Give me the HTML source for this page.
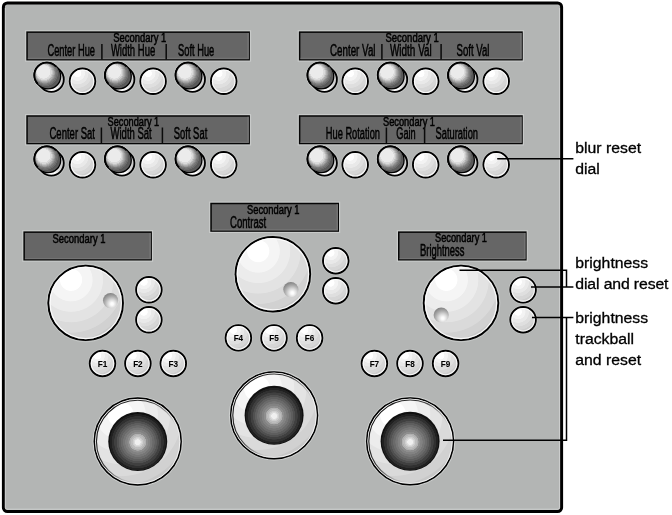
<!DOCTYPE html>
<html><head><meta charset="utf-8"><title>Panel</title>
<style>
html,body{margin:0;padding:0;background:#fff;}
body{width:672px;height:515px;overflow:hidden;}
svg{display:block;will-change:transform;}
text{font-family:"Liberation Sans",sans-serif;}
</style></head><body>
<svg width="672" height="515" viewBox="0 0 672 515">
<defs>
<radialGradient id="gCap" cx="0.464" cy="0.464" r="0.564" fx="0.286" fy="0.286"><stop offset="0" stop-color="#ebebeb"/><stop offset="0.467" stop-color="#ebebeb"/><stop offset="0.481" stop-color="#dadada"/><stop offset="0.544" stop-color="#dadada"/><stop offset="0.558" stop-color="#c6c6c6"/><stop offset="0.598" stop-color="#c6c6c6"/><stop offset="0.612" stop-color="#afafaf"/><stop offset="0.653" stop-color="#afafaf"/><stop offset="0.667" stop-color="#9d9d9d"/><stop offset="0.701" stop-color="#9d9d9d"/><stop offset="0.715" stop-color="#8a8a8a"/><stop offset="0.743" stop-color="#8a8a8a"/><stop offset="0.757" stop-color="#7a7a7a"/><stop offset="0.801" stop-color="#7a7a7a"/><stop offset="0.815" stop-color="#6c6c6c"/><stop offset="0.871" stop-color="#6c6c6c"/><stop offset="0.885" stop-color="#595959"/><stop offset="1" stop-color="#595959"/></radialGradient>
<linearGradient id="gBase" x1="0" y1="0" x2="1" y2="0.12"><stop offset="0" stop-color="#0c0c0c"/><stop offset="0.38" stop-color="#0c0c0c"/><stop offset="0.48" stop-color="#858585"/><stop offset="0.58" stop-color="#ffffff"/><stop offset="0.8" stop-color="#ffffff"/><stop offset="0.92" stop-color="#d8d8d8"/><stop offset="1" stop-color="#cccccc"/></linearGradient>
<radialGradient id="gKnob" cx="0.303" cy="0.19" r="0.876"><stop offset="0" stop-color="#ffffff"/><stop offset="0.164" stop-color="#ffffff"/><stop offset="0.176" stop-color="#f5f5f5"/><stop offset="0.324" stop-color="#f5f5f5"/><stop offset="0.336" stop-color="#ececec"/><stop offset="0.484" stop-color="#ececec"/><stop offset="0.496" stop-color="#e3e3e3"/><stop offset="0.644" stop-color="#e3e3e3"/><stop offset="0.656" stop-color="#dadada"/><stop offset="0.804" stop-color="#dadada"/><stop offset="0.816" stop-color="#d1d1d1"/><stop offset="0.924" stop-color="#d1d1d1"/><stop offset="0.936" stop-color="#c8c8c8"/><stop offset="1" stop-color="#c8c8c8"/></radialGradient>
<radialGradient id="gBtn" cx="0.303" cy="0.19" r="0.876"><stop offset="0" stop-color="#ffffff"/><stop offset="0.158" stop-color="#ffffff"/><stop offset="0.182" stop-color="#f3f3f3"/><stop offset="0.318" stop-color="#f3f3f3"/><stop offset="0.342" stop-color="#e9e9e9"/><stop offset="0.478" stop-color="#e9e9e9"/><stop offset="0.502" stop-color="#dfdfdf"/><stop offset="0.638" stop-color="#dfdfdf"/><stop offset="0.662" stop-color="#d6d6d6"/><stop offset="0.798" stop-color="#d6d6d6"/><stop offset="0.822" stop-color="#cdcdcd"/><stop offset="0.918" stop-color="#cdcdcd"/><stop offset="0.942" stop-color="#c5c5c5"/><stop offset="1" stop-color="#c5c5c5"/></radialGradient>
<radialGradient id="gDimple" cx="0.6" cy="0.72" r="0.8"><stop offset="0" stop-color="#ffffff"/><stop offset="0.12" stop-color="#fafafa"/><stop offset="0.35" stop-color="#d8d8d8"/><stop offset="0.6" stop-color="#adadad"/><stop offset="0.85" stop-color="#888888"/><stop offset="1" stop-color="#787878"/></radialGradient>
<radialGradient id="gBall" cx="0.5" cy="0.512" r="0.505"><stop offset="0" stop-color="#f0f0f0"/><stop offset="0.091" stop-color="#f0f0f0"/><stop offset="0.103" stop-color="#dcdcdc"/><stop offset="0.128" stop-color="#dcdcdc"/><stop offset="0.14" stop-color="#cfcfcf"/><stop offset="0.168" stop-color="#cfcfcf"/><stop offset="0.18" stop-color="#bdbdbd"/><stop offset="0.226" stop-color="#bdbdbd"/><stop offset="0.238" stop-color="#b0b0b0"/><stop offset="0.276" stop-color="#b0b0b0"/><stop offset="0.288" stop-color="#8e8e8e"/><stop offset="0.34" stop-color="#8e8e8e"/><stop offset="0.352" stop-color="#828282"/><stop offset="0.414" stop-color="#828282"/><stop offset="0.426" stop-color="#767676"/><stop offset="0.487" stop-color="#767676"/><stop offset="0.499" stop-color="#6a6a6a"/><stop offset="0.561" stop-color="#6a6a6a"/><stop offset="0.573" stop-color="#5e5e5e"/><stop offset="0.632" stop-color="#5e5e5e"/><stop offset="0.644" stop-color="#505050"/><stop offset="0.699" stop-color="#505050"/><stop offset="0.711" stop-color="#404040"/><stop offset="0.784" stop-color="#404040"/><stop offset="0.796" stop-color="#303030"/><stop offset="0.866" stop-color="#303030"/><stop offset="0.878" stop-color="#202020"/><stop offset="0.934" stop-color="#202020"/><stop offset="0.946" stop-color="#101010"/><stop offset="1" stop-color="#101010"/></radialGradient>
<linearGradient id="gRing" x1="0.1" y1="0.1" x2="0.9" y2="0.9"><stop offset="0" stop-color="#ffffff"/><stop offset="0.45" stop-color="#f8f8f8"/><stop offset="0.7" stop-color="#ebebeb"/><stop offset="1" stop-color="#dedede"/></linearGradient>
<linearGradient id="gBevel" x1="0.1" y1="0.2" x2="0.9" y2="0.8"><stop offset="0" stop-color="#1a1a1a" stop-opacity="1"/><stop offset="0.35" stop-color="#3c3c3c" stop-opacity="1"/><stop offset="0.55" stop-color="#777777" stop-opacity="0.75"/><stop offset="0.8" stop-color="#cccccc" stop-opacity="0"/></linearGradient>
</defs>
<rect x="3.4" y="2.9" width="558.2" height="508.6" rx="4" ry="4" fill="#b3b5b4" stroke="#000" stroke-width="3"/>
<path d="M5.3 8 V507.5 Q5.3 509.2 7 509.2 H557.5 Q559.6 509.2 559.6 507.5 V8" fill="none" stroke="#d4d6d5" stroke-width="0.8"/>
<rect x="25.7" y="30.799999999999997" width="224.79999999999998" height="30.250000000000004" fill="none" stroke="#c8cac9" stroke-width="1.2"/>
<rect x="26.3" y="31.4" width="223.6" height="29.050000000000004" fill="#060606"/>
<rect x="27.8" y="32.9" width="221.1" height="26.150000000000006" fill="#666666"/>
<path d="M248.1 32.9 V58.550000000000004 H27.8" fill="none" stroke="#7a7a7a" stroke-width="1.4" stroke-opacity="0.75"/>
<text x="113.25" y="42" font-size="12.0" font-weight="normal" fill="#000000" text-anchor="start" textLength="53" lengthAdjust="spacingAndGlyphs" stroke="#000000" stroke-width="0.5">Secondary 1</text>
<text x="47.5" y="55.5" font-size="15.8" font-weight="normal" fill="#000000" text-anchor="start" textLength="47.5" lengthAdjust="spacingAndGlyphs" stroke="#000000" stroke-width="0.5">Center Hue</text>
<path d="M101.9 43.9 V59.4" stroke="#0a0a0a" stroke-width="1.5" fill="none"/>
<text x="110.9" y="55.5" font-size="15.8" font-weight="normal" fill="#000000" text-anchor="start" textLength="44.3" lengthAdjust="spacingAndGlyphs" stroke="#000000" stroke-width="0.5">Width Hue</text>
<path d="M166.2 43.9 V59.4" stroke="#0a0a0a" stroke-width="1.5" fill="none"/>
<text x="178" y="55.5" font-size="15.8" font-weight="normal" fill="#000000" text-anchor="start" textLength="36.25" lengthAdjust="spacingAndGlyphs" stroke="#000000" stroke-width="0.5">Soft Hue</text>
<rect x="25.7" y="114.65" width="224.79999999999998" height="30.25000000000001" fill="none" stroke="#c8cac9" stroke-width="1.2"/>
<rect x="26.3" y="115.25" width="223.6" height="29.05000000000001" fill="#060606"/>
<rect x="27.8" y="116.75" width="221.1" height="26.150000000000006" fill="#666666"/>
<path d="M248.1 116.75 V142.4 H27.8" fill="none" stroke="#7a7a7a" stroke-width="1.4" stroke-opacity="0.75"/>
<text x="107.5" y="125.6" font-size="12.0" font-weight="normal" fill="#000000" text-anchor="start" textLength="51.75" lengthAdjust="spacingAndGlyphs" stroke="#000000" stroke-width="0.5">Secondary 1</text>
<text x="49.5" y="139.1" font-size="15.8" font-weight="normal" fill="#000000" text-anchor="start" textLength="45.5" lengthAdjust="spacingAndGlyphs" stroke="#000000" stroke-width="0.5">Center Sat</text>
<path d="M101.4 127.5 V143.0" stroke="#0a0a0a" stroke-width="1.5" fill="none"/>
<text x="110.5" y="139.1" font-size="15.8" font-weight="normal" fill="#000000" text-anchor="start" textLength="41.25" lengthAdjust="spacingAndGlyphs" stroke="#000000" stroke-width="0.5">Width Sat</text>
<path d="M162.4 127.5 V143.0" stroke="#0a0a0a" stroke-width="1.5" fill="none"/>
<text x="173.75" y="139.1" font-size="15.8" font-weight="normal" fill="#000000" text-anchor="start" textLength="33.5" lengthAdjust="spacingAndGlyphs" stroke="#000000" stroke-width="0.5">Soft Sat</text>
<rect x="298.29999999999995" y="30.799999999999997" width="225.05" height="30.250000000000004" fill="none" stroke="#c8cac9" stroke-width="1.2"/>
<rect x="298.9" y="31.4" width="223.85000000000002" height="29.050000000000004" fill="#060606"/>
<rect x="300.4" y="32.9" width="221.35000000000002" height="26.150000000000006" fill="#666666"/>
<path d="M520.95 32.9 V58.550000000000004 H300.4" fill="none" stroke="#7a7a7a" stroke-width="1.4" stroke-opacity="0.75"/>
<text x="385.5" y="42" font-size="12.0" font-weight="normal" fill="#000000" text-anchor="start" textLength="53.25" lengthAdjust="spacingAndGlyphs" stroke="#000000" stroke-width="0.5">Secondary 1</text>
<text x="330" y="55.5" font-size="15.8" font-weight="normal" fill="#000000" text-anchor="start" textLength="45.5" lengthAdjust="spacingAndGlyphs" stroke="#000000" stroke-width="0.5">Center Val</text>
<path d="M381.9 43.9 V59.4" stroke="#0a0a0a" stroke-width="1.5" fill="none"/>
<text x="390" y="55.5" font-size="15.8" font-weight="normal" fill="#000000" text-anchor="start" textLength="41.75" lengthAdjust="spacingAndGlyphs" stroke="#000000" stroke-width="0.5">Width Val</text>
<path d="M441.1 43.9 V59.4" stroke="#0a0a0a" stroke-width="1.5" fill="none"/>
<text x="456.5" y="55.5" font-size="15.8" font-weight="normal" fill="#000000" text-anchor="start" textLength="33" lengthAdjust="spacingAndGlyphs" stroke="#000000" stroke-width="0.5">Soft Val</text>
<rect x="298.29999999999995" y="114.65" width="225.05" height="30.2" fill="none" stroke="#c8cac9" stroke-width="1.2"/>
<rect x="298.9" y="115.25" width="223.85000000000002" height="29.0" fill="#060606"/>
<rect x="300.4" y="116.75" width="221.35000000000002" height="26.099999999999994" fill="#666666"/>
<path d="M520.95 116.75 V142.35 H300.4" fill="none" stroke="#7a7a7a" stroke-width="1.4" stroke-opacity="0.75"/>
<text x="383" y="125.6" font-size="12.0" font-weight="normal" fill="#000000" text-anchor="start" textLength="52" lengthAdjust="spacingAndGlyphs" stroke="#000000" stroke-width="0.5">Secondary 1</text>
<text x="325.75" y="139.1" font-size="15.8" font-weight="normal" fill="#000000" text-anchor="start" textLength="54.25" lengthAdjust="spacingAndGlyphs" stroke="#000000" stroke-width="0.5">Hue Rotation</text>
<path d="M386.4 127.5 V143.0" stroke="#0a0a0a" stroke-width="1.5" fill="none"/>
<text x="396.25" y="139.1" font-size="15.8" font-weight="normal" fill="#000000" text-anchor="start" textLength="19.5" lengthAdjust="spacingAndGlyphs" stroke="#000000" stroke-width="0.5">Gain</text>
<path d="M424.6 127.5 V143.0" stroke="#0a0a0a" stroke-width="1.5" fill="none"/>
<text x="435.5" y="139.1" font-size="15.8" font-weight="normal" fill="#000000" text-anchor="start" textLength="42.5" lengthAdjust="spacingAndGlyphs" stroke="#000000" stroke-width="0.5">Saturation</text>
<path d="M55.64 66.21 L60.04 70.51 A12.5 12.5 0 0 1 42.56 88.39 L38.16 84.09 A12.5 12.5 0 0 1 55.64 66.21 Z" fill="none" stroke="#c3c5c4" stroke-width="3.6"/>
<path d="M55.64 66.21 L60.04 70.51 A12.5 12.5 0 0 1 42.56 88.39 L38.16 84.09 A12.5 12.5 0 0 1 55.64 66.21 Z" fill="url(#gBase)" stroke="#000" stroke-width="1.8"/>
<path d="M55.74 66.31 L56.99 67.56 A12.5 12.5 0 0 1 39.31 85.24 L38.06 83.99 A12.5 12.5 0 0 1 55.74 66.31 Z" fill="#5c5c5c" stroke="#000" stroke-width="1.3"/>
<circle cx="46.90" cy="75.15" r="12.50" fill="url(#gCap)"/>
<circle cx="46.90" cy="75.15" r="12.50" fill="none" stroke="#000" stroke-width="1.8" stroke-dasharray="39.27 39.27" stroke-dashoffset="-29.45"/>
<circle cx="82.5" cy="81.3" r="14.2" fill="none" stroke="#c3c5c4" stroke-width="0.9"/>
<circle cx="82.5" cy="81.3" r="12.75" fill="url(#gBtn)" stroke="#000" stroke-width="1.9"/>
<circle cx="82.5" cy="81.3" r="11.25" fill="none" stroke="#ffffff" stroke-width="1.1" stroke-opacity="0.85"/>
<path d="M328.74 66.21 L333.14 70.51 A12.5 12.5 0 0 1 315.66 88.39 L311.26 84.09 A12.5 12.5 0 0 1 328.74 66.21 Z" fill="none" stroke="#c3c5c4" stroke-width="3.6"/>
<path d="M328.74 66.21 L333.14 70.51 A12.5 12.5 0 0 1 315.66 88.39 L311.26 84.09 A12.5 12.5 0 0 1 328.74 66.21 Z" fill="url(#gBase)" stroke="#000" stroke-width="1.8"/>
<path d="M328.84 66.31 L330.09 67.56 A12.5 12.5 0 0 1 312.41 85.24 L311.16 83.99 A12.5 12.5 0 0 1 328.84 66.31 Z" fill="#5c5c5c" stroke="#000" stroke-width="1.3"/>
<circle cx="320.00" cy="75.15" r="12.50" fill="url(#gCap)"/>
<circle cx="320.00" cy="75.15" r="12.50" fill="none" stroke="#000" stroke-width="1.8" stroke-dasharray="39.27 39.27" stroke-dashoffset="-29.45"/>
<circle cx="355.2" cy="81.3" r="14.2" fill="none" stroke="#c3c5c4" stroke-width="0.9"/>
<circle cx="355.2" cy="81.3" r="12.75" fill="url(#gBtn)" stroke="#000" stroke-width="1.9"/>
<circle cx="355.2" cy="81.3" r="11.25" fill="none" stroke="#ffffff" stroke-width="1.1" stroke-opacity="0.85"/>
<path d="M126.24 66.21 L130.64 70.51 A12.5 12.5 0 0 1 113.16 88.39 L108.76 84.09 A12.5 12.5 0 0 1 126.24 66.21 Z" fill="none" stroke="#c3c5c4" stroke-width="3.6"/>
<path d="M126.24 66.21 L130.64 70.51 A12.5 12.5 0 0 1 113.16 88.39 L108.76 84.09 A12.5 12.5 0 0 1 126.24 66.21 Z" fill="url(#gBase)" stroke="#000" stroke-width="1.8"/>
<path d="M126.34 66.31 L127.59 67.56 A12.5 12.5 0 0 1 109.91 85.24 L108.66 83.99 A12.5 12.5 0 0 1 126.34 66.31 Z" fill="#5c5c5c" stroke="#000" stroke-width="1.3"/>
<circle cx="117.50" cy="75.15" r="12.50" fill="url(#gCap)"/>
<circle cx="117.50" cy="75.15" r="12.50" fill="none" stroke="#000" stroke-width="1.8" stroke-dasharray="39.27 39.27" stroke-dashoffset="-29.45"/>
<circle cx="153.1" cy="81.3" r="14.2" fill="none" stroke="#c3c5c4" stroke-width="0.9"/>
<circle cx="153.1" cy="81.3" r="12.75" fill="url(#gBtn)" stroke="#000" stroke-width="1.9"/>
<circle cx="153.1" cy="81.3" r="11.25" fill="none" stroke="#ffffff" stroke-width="1.1" stroke-opacity="0.85"/>
<path d="M399.04 66.21 L403.44 70.51 A12.5 12.5 0 0 1 385.96 88.39 L381.56 84.09 A12.5 12.5 0 0 1 399.04 66.21 Z" fill="none" stroke="#c3c5c4" stroke-width="3.6"/>
<path d="M399.04 66.21 L403.44 70.51 A12.5 12.5 0 0 1 385.96 88.39 L381.56 84.09 A12.5 12.5 0 0 1 399.04 66.21 Z" fill="url(#gBase)" stroke="#000" stroke-width="1.8"/>
<path d="M399.14 66.31 L400.39 67.56 A12.5 12.5 0 0 1 382.71 85.24 L381.46 83.99 A12.5 12.5 0 0 1 399.14 66.31 Z" fill="#5c5c5c" stroke="#000" stroke-width="1.3"/>
<circle cx="390.30" cy="75.15" r="12.50" fill="url(#gCap)"/>
<circle cx="390.30" cy="75.15" r="12.50" fill="none" stroke="#000" stroke-width="1.8" stroke-dasharray="39.27 39.27" stroke-dashoffset="-29.45"/>
<circle cx="425.7" cy="81.3" r="14.2" fill="none" stroke="#c3c5c4" stroke-width="0.9"/>
<circle cx="425.7" cy="81.3" r="12.75" fill="url(#gBtn)" stroke="#000" stroke-width="1.9"/>
<circle cx="425.7" cy="81.3" r="11.25" fill="none" stroke="#ffffff" stroke-width="1.1" stroke-opacity="0.85"/>
<path d="M196.84 66.21 L201.24 70.51 A12.5 12.5 0 0 1 183.76 88.39 L179.36 84.09 A12.5 12.5 0 0 1 196.84 66.21 Z" fill="none" stroke="#c3c5c4" stroke-width="3.6"/>
<path d="M196.84 66.21 L201.24 70.51 A12.5 12.5 0 0 1 183.76 88.39 L179.36 84.09 A12.5 12.5 0 0 1 196.84 66.21 Z" fill="url(#gBase)" stroke="#000" stroke-width="1.8"/>
<path d="M196.94 66.31 L198.19 67.56 A12.5 12.5 0 0 1 180.51 85.24 L179.26 83.99 A12.5 12.5 0 0 1 196.94 66.31 Z" fill="#5c5c5c" stroke="#000" stroke-width="1.3"/>
<circle cx="188.10" cy="75.15" r="12.50" fill="url(#gCap)"/>
<circle cx="188.10" cy="75.15" r="12.50" fill="none" stroke="#000" stroke-width="1.8" stroke-dasharray="39.27 39.27" stroke-dashoffset="-29.45"/>
<circle cx="223.7" cy="81.3" r="14.2" fill="none" stroke="#c3c5c4" stroke-width="0.9"/>
<circle cx="223.7" cy="81.3" r="12.75" fill="url(#gBtn)" stroke="#000" stroke-width="1.9"/>
<circle cx="223.7" cy="81.3" r="11.25" fill="none" stroke="#ffffff" stroke-width="1.1" stroke-opacity="0.85"/>
<path d="M469.34 66.21 L473.74 70.51 A12.5 12.5 0 0 1 456.26 88.39 L451.86 84.09 A12.5 12.5 0 0 1 469.34 66.21 Z" fill="none" stroke="#c3c5c4" stroke-width="3.6"/>
<path d="M469.34 66.21 L473.74 70.51 A12.5 12.5 0 0 1 456.26 88.39 L451.86 84.09 A12.5 12.5 0 0 1 469.34 66.21 Z" fill="url(#gBase)" stroke="#000" stroke-width="1.8"/>
<path d="M469.44 66.31 L470.69 67.56 A12.5 12.5 0 0 1 453.01 85.24 L451.76 83.99 A12.5 12.5 0 0 1 469.44 66.31 Z" fill="#5c5c5c" stroke="#000" stroke-width="1.3"/>
<circle cx="460.60" cy="75.15" r="12.50" fill="url(#gCap)"/>
<circle cx="460.60" cy="75.15" r="12.50" fill="none" stroke="#000" stroke-width="1.8" stroke-dasharray="39.27 39.27" stroke-dashoffset="-29.45"/>
<circle cx="496.2" cy="81.3" r="14.2" fill="none" stroke="#c3c5c4" stroke-width="0.9"/>
<circle cx="496.2" cy="81.3" r="12.75" fill="url(#gBtn)" stroke="#000" stroke-width="1.9"/>
<circle cx="496.2" cy="81.3" r="11.25" fill="none" stroke="#ffffff" stroke-width="1.1" stroke-opacity="0.85"/>
<path d="M55.64 149.96 L60.04 154.26 A12.5 12.5 0 0 1 42.56 172.14 L38.16 167.84 A12.5 12.5 0 0 1 55.64 149.96 Z" fill="none" stroke="#c3c5c4" stroke-width="3.6"/>
<path d="M55.64 149.96 L60.04 154.26 A12.5 12.5 0 0 1 42.56 172.14 L38.16 167.84 A12.5 12.5 0 0 1 55.64 149.96 Z" fill="url(#gBase)" stroke="#000" stroke-width="1.8"/>
<path d="M55.74 150.06 L56.99 151.31 A12.5 12.5 0 0 1 39.31 168.99 L38.06 167.74 A12.5 12.5 0 0 1 55.74 150.06 Z" fill="#5c5c5c" stroke="#000" stroke-width="1.3"/>
<circle cx="46.90" cy="158.90" r="12.50" fill="url(#gCap)"/>
<circle cx="46.90" cy="158.90" r="12.50" fill="none" stroke="#000" stroke-width="1.8" stroke-dasharray="39.27 39.27" stroke-dashoffset="-29.45"/>
<circle cx="82.5" cy="164.79999999999998" r="14.2" fill="none" stroke="#c3c5c4" stroke-width="0.9"/>
<circle cx="82.5" cy="164.79999999999998" r="12.75" fill="url(#gBtn)" stroke="#000" stroke-width="1.9"/>
<circle cx="82.5" cy="164.79999999999998" r="11.25" fill="none" stroke="#ffffff" stroke-width="1.1" stroke-opacity="0.85"/>
<path d="M328.74 149.96 L333.14 154.26 A12.5 12.5 0 0 1 315.66 172.14 L311.26 167.84 A12.5 12.5 0 0 1 328.74 149.96 Z" fill="none" stroke="#c3c5c4" stroke-width="3.6"/>
<path d="M328.74 149.96 L333.14 154.26 A12.5 12.5 0 0 1 315.66 172.14 L311.26 167.84 A12.5 12.5 0 0 1 328.74 149.96 Z" fill="url(#gBase)" stroke="#000" stroke-width="1.8"/>
<path d="M328.84 150.06 L330.09 151.31 A12.5 12.5 0 0 1 312.41 168.99 L311.16 167.74 A12.5 12.5 0 0 1 328.84 150.06 Z" fill="#5c5c5c" stroke="#000" stroke-width="1.3"/>
<circle cx="320.00" cy="158.90" r="12.50" fill="url(#gCap)"/>
<circle cx="320.00" cy="158.90" r="12.50" fill="none" stroke="#000" stroke-width="1.8" stroke-dasharray="39.27 39.27" stroke-dashoffset="-29.45"/>
<circle cx="355.2" cy="164.79999999999998" r="14.2" fill="none" stroke="#c3c5c4" stroke-width="0.9"/>
<circle cx="355.2" cy="164.79999999999998" r="12.75" fill="url(#gBtn)" stroke="#000" stroke-width="1.9"/>
<circle cx="355.2" cy="164.79999999999998" r="11.25" fill="none" stroke="#ffffff" stroke-width="1.1" stroke-opacity="0.85"/>
<path d="M126.24 149.96 L130.64 154.26 A12.5 12.5 0 0 1 113.16 172.14 L108.76 167.84 A12.5 12.5 0 0 1 126.24 149.96 Z" fill="none" stroke="#c3c5c4" stroke-width="3.6"/>
<path d="M126.24 149.96 L130.64 154.26 A12.5 12.5 0 0 1 113.16 172.14 L108.76 167.84 A12.5 12.5 0 0 1 126.24 149.96 Z" fill="url(#gBase)" stroke="#000" stroke-width="1.8"/>
<path d="M126.34 150.06 L127.59 151.31 A12.5 12.5 0 0 1 109.91 168.99 L108.66 167.74 A12.5 12.5 0 0 1 126.34 150.06 Z" fill="#5c5c5c" stroke="#000" stroke-width="1.3"/>
<circle cx="117.50" cy="158.90" r="12.50" fill="url(#gCap)"/>
<circle cx="117.50" cy="158.90" r="12.50" fill="none" stroke="#000" stroke-width="1.8" stroke-dasharray="39.27 39.27" stroke-dashoffset="-29.45"/>
<circle cx="153.1" cy="164.79999999999998" r="14.2" fill="none" stroke="#c3c5c4" stroke-width="0.9"/>
<circle cx="153.1" cy="164.79999999999998" r="12.75" fill="url(#gBtn)" stroke="#000" stroke-width="1.9"/>
<circle cx="153.1" cy="164.79999999999998" r="11.25" fill="none" stroke="#ffffff" stroke-width="1.1" stroke-opacity="0.85"/>
<path d="M399.04 149.96 L403.44 154.26 A12.5 12.5 0 0 1 385.96 172.14 L381.56 167.84 A12.5 12.5 0 0 1 399.04 149.96 Z" fill="none" stroke="#c3c5c4" stroke-width="3.6"/>
<path d="M399.04 149.96 L403.44 154.26 A12.5 12.5 0 0 1 385.96 172.14 L381.56 167.84 A12.5 12.5 0 0 1 399.04 149.96 Z" fill="url(#gBase)" stroke="#000" stroke-width="1.8"/>
<path d="M399.14 150.06 L400.39 151.31 A12.5 12.5 0 0 1 382.71 168.99 L381.46 167.74 A12.5 12.5 0 0 1 399.14 150.06 Z" fill="#5c5c5c" stroke="#000" stroke-width="1.3"/>
<circle cx="390.30" cy="158.90" r="12.50" fill="url(#gCap)"/>
<circle cx="390.30" cy="158.90" r="12.50" fill="none" stroke="#000" stroke-width="1.8" stroke-dasharray="39.27 39.27" stroke-dashoffset="-29.45"/>
<circle cx="425.7" cy="164.79999999999998" r="14.2" fill="none" stroke="#c3c5c4" stroke-width="0.9"/>
<circle cx="425.7" cy="164.79999999999998" r="12.75" fill="url(#gBtn)" stroke="#000" stroke-width="1.9"/>
<circle cx="425.7" cy="164.79999999999998" r="11.25" fill="none" stroke="#ffffff" stroke-width="1.1" stroke-opacity="0.85"/>
<path d="M196.84 149.96 L201.24 154.26 A12.5 12.5 0 0 1 183.76 172.14 L179.36 167.84 A12.5 12.5 0 0 1 196.84 149.96 Z" fill="none" stroke="#c3c5c4" stroke-width="3.6"/>
<path d="M196.84 149.96 L201.24 154.26 A12.5 12.5 0 0 1 183.76 172.14 L179.36 167.84 A12.5 12.5 0 0 1 196.84 149.96 Z" fill="url(#gBase)" stroke="#000" stroke-width="1.8"/>
<path d="M196.94 150.06 L198.19 151.31 A12.5 12.5 0 0 1 180.51 168.99 L179.26 167.74 A12.5 12.5 0 0 1 196.94 150.06 Z" fill="#5c5c5c" stroke="#000" stroke-width="1.3"/>
<circle cx="188.10" cy="158.90" r="12.50" fill="url(#gCap)"/>
<circle cx="188.10" cy="158.90" r="12.50" fill="none" stroke="#000" stroke-width="1.8" stroke-dasharray="39.27 39.27" stroke-dashoffset="-29.45"/>
<circle cx="223.7" cy="164.79999999999998" r="14.2" fill="none" stroke="#c3c5c4" stroke-width="0.9"/>
<circle cx="223.7" cy="164.79999999999998" r="12.75" fill="url(#gBtn)" stroke="#000" stroke-width="1.9"/>
<circle cx="223.7" cy="164.79999999999998" r="11.25" fill="none" stroke="#ffffff" stroke-width="1.1" stroke-opacity="0.85"/>
<path d="M469.34 149.96 L473.74 154.26 A12.5 12.5 0 0 1 456.26 172.14 L451.86 167.84 A12.5 12.5 0 0 1 469.34 149.96 Z" fill="none" stroke="#c3c5c4" stroke-width="3.6"/>
<path d="M469.34 149.96 L473.74 154.26 A12.5 12.5 0 0 1 456.26 172.14 L451.86 167.84 A12.5 12.5 0 0 1 469.34 149.96 Z" fill="url(#gBase)" stroke="#000" stroke-width="1.8"/>
<path d="M469.44 150.06 L470.69 151.31 A12.5 12.5 0 0 1 453.01 168.99 L451.76 167.74 A12.5 12.5 0 0 1 469.44 150.06 Z" fill="#5c5c5c" stroke="#000" stroke-width="1.3"/>
<circle cx="460.60" cy="158.90" r="12.50" fill="url(#gCap)"/>
<circle cx="460.60" cy="158.90" r="12.50" fill="none" stroke="#000" stroke-width="1.8" stroke-dasharray="39.27 39.27" stroke-dashoffset="-29.45"/>
<circle cx="496.2" cy="164.79999999999998" r="14.2" fill="none" stroke="#c3c5c4" stroke-width="0.9"/>
<circle cx="496.2" cy="164.79999999999998" r="12.75" fill="url(#gBtn)" stroke="#000" stroke-width="1.9"/>
<circle cx="496.2" cy="164.79999999999998" r="11.25" fill="none" stroke="#ffffff" stroke-width="1.1" stroke-opacity="0.85"/>
<rect x="22.799999999999997" y="230.8" width="129.7" height="30.299999999999994" fill="none" stroke="#c8cac9" stroke-width="1.2"/>
<rect x="23.4" y="231.4" width="128.5" height="29.099999999999994" fill="#060606"/>
<rect x="24.9" y="232.9" width="126.0" height="26.200000000000017" fill="#666666"/>
<path d="M150.1 232.9 V258.6 H24.9" fill="none" stroke="#7a7a7a" stroke-width="1.4" stroke-opacity="0.75"/>
<text x="52.5" y="242.5" font-size="12.0" font-weight="normal" fill="#000000" text-anchor="start" textLength="53" lengthAdjust="spacingAndGlyphs" stroke="#000000" stroke-width="0.5">Secondary 1</text>
<rect x="209.70000000000002" y="202.15" width="129.89999999999998" height="30.25000000000001" fill="none" stroke="#c8cac9" stroke-width="1.2"/>
<rect x="210.3" y="202.75" width="128.7" height="29.05000000000001" fill="#060606"/>
<rect x="211.8" y="204.25" width="126.19999999999999" height="26.150000000000006" fill="#666666"/>
<path d="M337.2 204.25 V229.9 H211.8" fill="none" stroke="#7a7a7a" stroke-width="1.4" stroke-opacity="0.75"/>
<text x="247" y="213.75" font-size="12.0" font-weight="normal" fill="#000000" text-anchor="start" textLength="52.5" lengthAdjust="spacingAndGlyphs" stroke="#000000" stroke-width="0.5">Secondary 1</text>
<text x="230" y="228" font-size="15.8" font-weight="normal" fill="#000000" text-anchor="start" textLength="36.25" lengthAdjust="spacingAndGlyphs" stroke="#000000" stroke-width="0.5">Contrast</text>
<rect x="397.4" y="230.8" width="129.8" height="30.299999999999994" fill="none" stroke="#c8cac9" stroke-width="1.2"/>
<rect x="398.0" y="231.4" width="128.60000000000002" height="29.099999999999994" fill="#060606"/>
<rect x="399.5" y="232.9" width="126.10000000000002" height="26.200000000000017" fill="#666666"/>
<path d="M524.8000000000001 232.9 V258.6 H399.5" fill="none" stroke="#7a7a7a" stroke-width="1.4" stroke-opacity="0.75"/>
<text x="435" y="242" font-size="12.0" font-weight="normal" fill="#000000" text-anchor="start" textLength="52" lengthAdjust="spacingAndGlyphs" stroke="#000000" stroke-width="0.5">Secondary 1</text>
<text x="420" y="256.25" font-size="15.8" font-weight="normal" fill="#000000" text-anchor="start" textLength="44.5" lengthAdjust="spacingAndGlyphs" stroke="#000000" stroke-width="0.5">Brightness</text>
<circle cx="85.7" cy="302.9" r="38.95" fill="none" stroke="#c6c8c7" stroke-width="0.9"/>
<circle cx="85.3" cy="303.0" r="37.6" fill="#000"/>
<circle cx="85.7" cy="302.9" r="37.25" fill="url(#gKnob)" stroke="#000" stroke-width="1.9"/>
<circle cx="85.7" cy="302.9" r="35.65" fill="none" stroke="#ffffff" stroke-width="1.2" stroke-opacity="0.85"/>
<circle cx="110.55000000000001" cy="300.54999999999995" r="7.6" fill="url(#gDimple)"/>
<circle cx="272.9" cy="274.2" r="38.95" fill="none" stroke="#c6c8c7" stroke-width="0.9"/>
<circle cx="272.5" cy="274.3" r="37.6" fill="#000"/>
<circle cx="272.9" cy="274.2" r="37.25" fill="url(#gKnob)" stroke="#000" stroke-width="1.9"/>
<circle cx="272.9" cy="274.2" r="35.65" fill="none" stroke="#ffffff" stroke-width="1.2" stroke-opacity="0.85"/>
<circle cx="290.84999999999997" cy="289.59999999999997" r="7.6" fill="url(#gDimple)"/>
<circle cx="461" cy="302.9" r="38.95" fill="none" stroke="#c6c8c7" stroke-width="0.9"/>
<circle cx="460.6" cy="303.0" r="37.6" fill="#000"/>
<circle cx="461" cy="302.9" r="37.25" fill="url(#gKnob)" stroke="#000" stroke-width="1.9"/>
<circle cx="461" cy="302.9" r="35.65" fill="none" stroke="#ffffff" stroke-width="1.2" stroke-opacity="0.85"/>
<circle cx="441.25" cy="315.0" r="7.6" fill="url(#gDimple)"/>
<circle cx="148.9" cy="289.8" r="14.2" fill="none" stroke="#c3c5c4" stroke-width="0.9"/>
<circle cx="148.9" cy="289.8" r="12.75" fill="url(#gBtn)" stroke="#000" stroke-width="1.9"/>
<circle cx="148.9" cy="289.8" r="11.25" fill="none" stroke="#ffffff" stroke-width="1.1" stroke-opacity="0.85"/>
<circle cx="148.9" cy="319.8" r="14.2" fill="none" stroke="#c3c5c4" stroke-width="0.9"/>
<circle cx="148.9" cy="319.8" r="12.75" fill="url(#gBtn)" stroke="#000" stroke-width="1.9"/>
<circle cx="148.9" cy="319.8" r="11.25" fill="none" stroke="#ffffff" stroke-width="1.1" stroke-opacity="0.85"/>
<circle cx="335.75" cy="260.75" r="14.2" fill="none" stroke="#c3c5c4" stroke-width="0.9"/>
<circle cx="335.75" cy="260.75" r="12.75" fill="url(#gBtn)" stroke="#000" stroke-width="1.9"/>
<circle cx="335.75" cy="260.75" r="11.25" fill="none" stroke="#ffffff" stroke-width="1.1" stroke-opacity="0.85"/>
<circle cx="335.75" cy="290.75" r="14.2" fill="none" stroke="#c3c5c4" stroke-width="0.9"/>
<circle cx="335.75" cy="290.75" r="12.75" fill="url(#gBtn)" stroke="#000" stroke-width="1.9"/>
<circle cx="335.75" cy="290.75" r="11.25" fill="none" stroke="#ffffff" stroke-width="1.1" stroke-opacity="0.85"/>
<circle cx="523.1" cy="289.85" r="14.2" fill="none" stroke="#c3c5c4" stroke-width="0.9"/>
<circle cx="523.1" cy="289.85" r="12.75" fill="url(#gBtn)" stroke="#000" stroke-width="1.9"/>
<circle cx="523.1" cy="289.85" r="11.25" fill="none" stroke="#ffffff" stroke-width="1.1" stroke-opacity="0.85"/>
<circle cx="523.1" cy="319.75" r="14.2" fill="none" stroke="#c3c5c4" stroke-width="0.9"/>
<circle cx="523.1" cy="319.75" r="12.75" fill="url(#gBtn)" stroke="#000" stroke-width="1.9"/>
<circle cx="523.1" cy="319.75" r="11.25" fill="none" stroke="#ffffff" stroke-width="1.1" stroke-opacity="0.85"/>
<circle cx="102.5" cy="363.5" r="14.2" fill="none" stroke="#c3c5c4" stroke-width="0.9"/>
<circle cx="102.5" cy="363.5" r="12.75" fill="url(#gBtn)" stroke="#000" stroke-width="1.9"/>
<circle cx="102.5" cy="363.5" r="11.25" fill="none" stroke="#ffffff" stroke-width="1.1" stroke-opacity="0.85"/>
<text x="102.5" y="366.8" font-size="9.5" font-weight="bold" fill="#000000" text-anchor="middle" textLength="9.5" lengthAdjust="spacingAndGlyphs" stroke="#000000" stroke-width="0.1">F1</text>
<circle cx="137.9" cy="363.5" r="14.2" fill="none" stroke="#c3c5c4" stroke-width="0.9"/>
<circle cx="137.9" cy="363.5" r="12.75" fill="url(#gBtn)" stroke="#000" stroke-width="1.9"/>
<circle cx="137.9" cy="363.5" r="11.25" fill="none" stroke="#ffffff" stroke-width="1.1" stroke-opacity="0.85"/>
<text x="137.9" y="366.8" font-size="9.5" font-weight="bold" fill="#000000" text-anchor="middle" textLength="9.5" lengthAdjust="spacingAndGlyphs" stroke="#000000" stroke-width="0.1">F2</text>
<circle cx="173.3" cy="363.5" r="14.2" fill="none" stroke="#c3c5c4" stroke-width="0.9"/>
<circle cx="173.3" cy="363.5" r="12.75" fill="url(#gBtn)" stroke="#000" stroke-width="1.9"/>
<circle cx="173.3" cy="363.5" r="11.25" fill="none" stroke="#ffffff" stroke-width="1.1" stroke-opacity="0.85"/>
<text x="173.3" y="366.8" font-size="9.5" font-weight="bold" fill="#000000" text-anchor="middle" textLength="9.5" lengthAdjust="spacingAndGlyphs" stroke="#000000" stroke-width="0.1">F3</text>
<circle cx="238.4" cy="337.9" r="14.2" fill="none" stroke="#c3c5c4" stroke-width="0.9"/>
<circle cx="238.4" cy="337.9" r="12.75" fill="url(#gBtn)" stroke="#000" stroke-width="1.9"/>
<circle cx="238.4" cy="337.9" r="11.25" fill="none" stroke="#ffffff" stroke-width="1.1" stroke-opacity="0.85"/>
<text x="238.4" y="341.2" font-size="9.5" font-weight="bold" fill="#000000" text-anchor="middle" textLength="9.5" lengthAdjust="spacingAndGlyphs" stroke="#000000" stroke-width="0.1">F4</text>
<circle cx="274.0" cy="337.9" r="14.2" fill="none" stroke="#c3c5c4" stroke-width="0.9"/>
<circle cx="274.0" cy="337.9" r="12.75" fill="url(#gBtn)" stroke="#000" stroke-width="1.9"/>
<circle cx="274.0" cy="337.9" r="11.25" fill="none" stroke="#ffffff" stroke-width="1.1" stroke-opacity="0.85"/>
<text x="274.0" y="341.2" font-size="9.5" font-weight="bold" fill="#000000" text-anchor="middle" textLength="9.5" lengthAdjust="spacingAndGlyphs" stroke="#000000" stroke-width="0.1">F5</text>
<circle cx="309.6" cy="337.9" r="14.2" fill="none" stroke="#c3c5c4" stroke-width="0.9"/>
<circle cx="309.6" cy="337.9" r="12.75" fill="url(#gBtn)" stroke="#000" stroke-width="1.9"/>
<circle cx="309.6" cy="337.9" r="11.25" fill="none" stroke="#ffffff" stroke-width="1.1" stroke-opacity="0.85"/>
<text x="309.6" y="341.2" font-size="9.5" font-weight="bold" fill="#000000" text-anchor="middle" textLength="9.5" lengthAdjust="spacingAndGlyphs" stroke="#000000" stroke-width="0.1">F6</text>
<circle cx="374.4" cy="363.5" r="14.2" fill="none" stroke="#c3c5c4" stroke-width="0.9"/>
<circle cx="374.4" cy="363.5" r="12.75" fill="url(#gBtn)" stroke="#000" stroke-width="1.9"/>
<circle cx="374.4" cy="363.5" r="11.25" fill="none" stroke="#ffffff" stroke-width="1.1" stroke-opacity="0.85"/>
<text x="374.4" y="366.8" font-size="9.5" font-weight="bold" fill="#000000" text-anchor="middle" textLength="9.5" lengthAdjust="spacingAndGlyphs" stroke="#000000" stroke-width="0.1">F7</text>
<circle cx="410.0" cy="363.5" r="14.2" fill="none" stroke="#c3c5c4" stroke-width="0.9"/>
<circle cx="410.0" cy="363.5" r="12.75" fill="url(#gBtn)" stroke="#000" stroke-width="1.9"/>
<circle cx="410.0" cy="363.5" r="11.25" fill="none" stroke="#ffffff" stroke-width="1.1" stroke-opacity="0.85"/>
<text x="410.0" y="366.8" font-size="9.5" font-weight="bold" fill="#000000" text-anchor="middle" textLength="9.5" lengthAdjust="spacingAndGlyphs" stroke="#000000" stroke-width="0.1">F8</text>
<circle cx="445.59999999999997" cy="363.5" r="14.2" fill="none" stroke="#c3c5c4" stroke-width="0.9"/>
<circle cx="445.59999999999997" cy="363.5" r="12.75" fill="url(#gBtn)" stroke="#000" stroke-width="1.9"/>
<circle cx="445.59999999999997" cy="363.5" r="11.25" fill="none" stroke="#ffffff" stroke-width="1.1" stroke-opacity="0.85"/>
<text x="445.59999999999997" y="366.8" font-size="9.5" font-weight="bold" fill="#000000" text-anchor="middle" textLength="9.5" lengthAdjust="spacingAndGlyphs" stroke="#000000" stroke-width="0.1">F9</text>
<circle cx="137.75" cy="441.5" r="44.75" fill="none" stroke="#d0d2d1" stroke-width="1.0"/>
<circle cx="137.75" cy="441.5" r="43.35" fill="url(#gKnob)" stroke="#000" stroke-width="1.6"/>
<circle cx="137.75" cy="441.5" r="42.2" fill="none" stroke="#ffffff" stroke-width="0.8" stroke-opacity="0.95"/>
<circle cx="137.75" cy="441.5" r="41.300000000000004" fill="none" stroke="url(#gBevel)" stroke-width="1.15"/>
<circle cx="137.75" cy="441.5" r="29.5" fill="url(#gBall)"/>
<circle cx="274.1" cy="415.3" r="44.75" fill="none" stroke="#d0d2d1" stroke-width="1.0"/>
<circle cx="274.1" cy="415.3" r="43.35" fill="url(#gKnob)" stroke="#000" stroke-width="1.6"/>
<circle cx="274.1" cy="415.3" r="42.2" fill="none" stroke="#ffffff" stroke-width="0.8" stroke-opacity="0.95"/>
<circle cx="274.1" cy="415.3" r="41.300000000000004" fill="none" stroke="url(#gBevel)" stroke-width="1.15"/>
<circle cx="274.1" cy="415.3" r="29.5" fill="url(#gBall)"/>
<circle cx="410.1" cy="441.3" r="44.75" fill="none" stroke="#d0d2d1" stroke-width="1.0"/>
<circle cx="410.1" cy="441.3" r="43.35" fill="url(#gKnob)" stroke="#000" stroke-width="1.6"/>
<circle cx="410.1" cy="441.3" r="42.2" fill="none" stroke="#ffffff" stroke-width="0.8" stroke-opacity="0.95"/>
<circle cx="410.1" cy="441.3" r="41.300000000000004" fill="none" stroke="url(#gBevel)" stroke-width="1.15"/>
<circle cx="410.1" cy="441.3" r="29.5" fill="url(#gBall)"/>
<g fill="none" stroke="#000" stroke-width="1.5">
<path d="M497.2 158.8 H573.4"/>
<path d="M459.5 270.15 H566.5 V287"/>
<path d="M531 287 H573.4"/>
<path d="M532 317.5 H573.4"/>
<path d="M566.5 317.5 V440.2 H443"/>
</g>
<g transform="translate(575.3 0) scale(1.0604 1) translate(-575.3 0)">
<text x="575.3" y="153.1" font-size="14.9" font-weight="normal" fill="#000" text-anchor="start" stroke="#000" stroke-width="0.3">blur reset</text>
<text x="575.3" y="174.3" font-size="14.9" font-weight="normal" fill="#000" text-anchor="start" stroke="#000" stroke-width="0.3">dial</text>
<text x="575.3" y="268.5" font-size="14.9" font-weight="normal" fill="#000" text-anchor="start" stroke="#000" stroke-width="0.3">brightness</text>
<text x="575.3" y="289.4" font-size="14.9" fill="#000" stroke="#000" stroke-width="0.3" textLength="87.89" lengthAdjust="spacing">dial and reset</text>
<text x="575.3" y="323.5" font-size="14.9" font-weight="normal" fill="#000" text-anchor="start" stroke="#000" stroke-width="0.3">brightness</text>
<text x="575.3" y="344.4" font-size="14.9" font-weight="normal" fill="#000" text-anchor="start" stroke="#000" stroke-width="0.3">trackball</text>
<text x="575.3" y="365.5" font-size="14.9" font-weight="normal" fill="#000" text-anchor="start" stroke="#000" stroke-width="0.3">and reset</text>
</g>
</svg></body></html>
